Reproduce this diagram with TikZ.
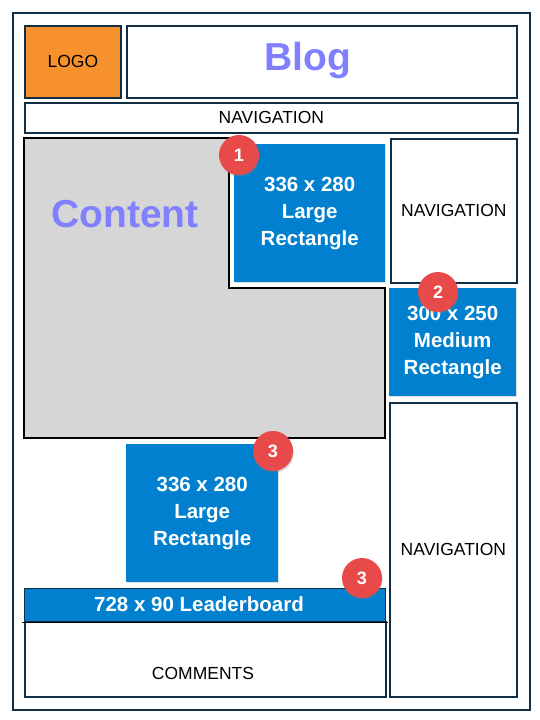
\documentclass[tikz,border=0pt]{standalone}
\usepackage{fontspec}
\setmainfont{Liberation Sans}
\usetikzlibrary{shadows}
\tikzset{
	wire/.style={draw=framecol, line width=1.8pt, fill=white, anchor=north west, inner sep=0pt},
	adbox/.style={fill=adblue, anchor=north west, inner sep=0pt,
		drop shadow={opacity=.25, shadow xshift=.6pt, shadow yshift=-1.2pt}},
	adtext/.style={text=white, align=center, font=\bfseries\fontsize{20.5}{27}\selectfont},
	navtext/.style={font=\fontsize{17.5}{20}\selectfont},
	bigtitle/.style={text=titleblue, font=\bfseries\fontsize{39}{44}\selectfont},
	badge/.style={circle, fill=badgered, minimum size=40pt, inner sep=0pt, text=white,
		font=\bfseries\fontsize{18}{20}\selectfont,
		drop shadow={opacity=.3, shadow xshift=.8pt, shadow yshift=-1.8pt}}
}
\begin{document}
\begin{tikzpicture}[x=1pt,y=-1pt,line join=miter]
	\definecolor{framecol}{rgb}{0.07, 0.18, 0.27}
	\definecolor{logoorange}{rgb}{0.97, 0.57, 0.18}
	\definecolor{adblue}{rgb}{0.0, 0.5, 0.81}
	\definecolor{titleblue}{rgb}{0.5, 0.5, 1.0}
	\definecolor{contentgray}{rgb}{0.84, 0.84, 0.84}
	\definecolor{badgered}{rgb}{0.91, 0.29, 0.29}
	\useasboundingbox (0,0) rectangle (540,720);
	
	% page frame
	\node[wire, line width=2.4pt, minimum width=517pt, minimum height=697pt] (page) at (12,12) {};
	
	% header
	\node[wire, fill=logoorange, minimum width=96pt, minimum height=72pt, navtext] (logo) at (24,25) {LOGO};
	\node[wire, minimum width=390pt, minimum height=72pt] (blog) at (126,25) {};
	\node[bigtitle] (blogtitle) at (308,61) {Blog};
	\node[wire, minimum width=493pt, minimum height=30pt, navtext] (topnav) at (24,102) {NAVIGATION};
	
	%%%%%%%%%%%%%%%%%%
	% content area with the notch
	\filldraw[fill=contentgray, draw=black, line width=1.4pt,
		drop shadow={opacity=.2, shadow xshift=.6pt, shadow yshift=-1pt}]
		(24,138)--(229,138)--(229,288)--(385,288)--(385,438)--(24,438)--cycle;
	\node[bigtitle] (contenttitle) at (125,214) {Content};
	
	% ad units
	\node[adbox, minimum width=151pt, minimum height=138pt] (adone) at (234,144) {};
	\node[adtext] at (adone.center) {336 x 280\\Large\\Rectangle};
	\node[wire, minimum width=126pt, minimum height=144pt, navtext] (sidenavone) at (390,138) {NAVIGATION};
	\node[adbox, minimum width=127pt, minimum height=108pt] (adtwo) at (389,288) {};
	\node[adtext] at (adtwo.center) {300 x 250\\Medium\\Rectangle};
	\node[wire, minimum width=127pt, minimum height=294pt, navtext] (sidenavtwo) at (389,402) {NAVIGATION};
	\node[adbox, minimum width=152pt, minimum height=138pt] (adthree) at (126,444) {};
	\node[adtext] at (adthree.center) {336 x 280\\Large\\Rectangle};
	
	% leaderboard and comments
	\node[wire, minimum width=361pt, minimum height=75pt] (comments) at (24,621) {};
	\node[navtext] (commentstext) at (203,673) {COMMENTS};
	\node[adbox, draw=framecol, line width=1.4pt, minimum width=361pt, minimum height=33pt] (leader) at (24,588) {};
	\node[adtext] at (199,604) {728 x 90 Leaderboard};
	\draw[black, line width=1.4pt] ([xshift=-2pt]leader.south west)--([xshift=2pt]leader.south east);
	
	% numbered badges
	\node[badge] (badgeone) at (239,155) {1};
	\node[badge] (badgetwo) at (438,292) {2};
	\node[badge] (badgethree) at (273,451) {3};
	\node[badge] (badgefour) at (362,578) {3};
\end{tikzpicture}
\end{document}
